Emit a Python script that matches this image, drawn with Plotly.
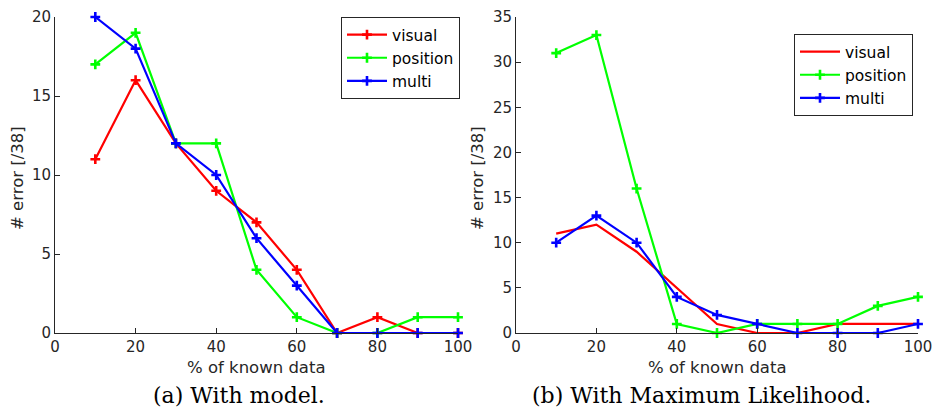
import plotly.graph_objects as go

x_vals = [10, 20, 30, 40, 50, 60, 70, 80, 90, 100]

# (a) With model
a_visual = [11, 16, 12, 9, 7, 4, 0, 1, 0, 0]
a_position = [17, 19, 12, 12, 4, 1, 0, 0, 1, 1]
a_multi = [20, 18, 12, 10, 6, 3, 0, 0, 0, 0]

# (b) With Maximum Likelihood
b_visual = [11, 12, 9, 5, 1, 0, 0, 1, 1, 1]
b_position = [31, 33, 16, 1, 0, 1, 1, 1, 3, 4]
b_multi = [10, 13, 10, 4, 2, 1, 0, 0, 0, 1]

series_names = ["visual", "position", "multi"]
colors = ["#ff0000", "#00ff00", "#0000ff"]
x_ticks = [0, 20, 40, 60, 80, 100]
a_y_ticks = [0, 5, 10, 15, 20]
b_y_ticks = [0, 5, 10, 15, 20, 25, 30, 35]
captions = ["(a) With model.", "(b) With Maximum Likelihood."]
x_title = "% of known data"
y_title = "# error [/38]"

W, H = 933, 407
fig = go.Figure()

def add(y, name, color, xa, ya, legend, markers=True):
    fig.add_trace(go.Scatter(
        x=x_vals, y=y, name=name, xaxis=xa, yaxis=ya, legend=legend,
        mode="lines+markers" if markers else "lines",
        line=dict(color=color, width=2.2),
        marker=dict(symbol="cross-thin", size=7, line=dict(width=2.6, color=color), color=color),
        cliponaxis=False,
    ))

for ys, n, c in zip([a_visual, a_position, a_multi], series_names, colors):
    add(ys, n, c, "x", "y", "legend")
for ys, n, c, m in zip([b_visual, b_position, b_multi], series_names, colors, [False, True, True]):
    add(ys, n, c, "x2", "y2", "legend2", m)

def px(v):
    return v / W
def py(v):
    return 1 - v / H

tickfont = dict(family="DejaVu Sans", size=15, color="#262626")
ax_common = dict(showgrid=False, zeroline=False, showline=True, linecolor="#262626",
                 linewidth=1, ticks="inside", ticklen=5, tickcolor="#262626",
                 tickwidth=1, tickfont=tickfont, mirror=False, fixedrange=True,
                 automargin=False)

legend_common = dict(bgcolor="white", bordercolor="#262626", borderwidth=1,
                     font=dict(family="DejaVu Sans", size=15.5, color="#000000"),
                     tracegroupgap=0, itemwidth=40)

fig.update_layout(
    width=W, height=H, margin=dict(l=0, r=0, t=0, b=0, pad=0, autoexpand=False),
    paper_bgcolor="white", plot_bgcolor="white",
    xaxis=dict(domain=[px(55), px(458)], range=[0, 100], tickvals=x_ticks, anchor="y", **ax_common),
    yaxis=dict(domain=[py(333), py(17)], range=[0, 20], tickvals=a_y_ticks, anchor="x", **ax_common),
    xaxis2=dict(domain=[px(516), px(918)], range=[0, 100], tickvals=x_ticks, anchor="y2", **ax_common),
    yaxis2=dict(domain=[py(333), py(17)], range=[0, 35], tickvals=b_y_ticks, anchor="x2", **ax_common),
    legend=dict(x=px(460), y=py(17), xanchor="right", yanchor="top", **legend_common),
    legend2=dict(x=px(913), y=py(34), xanchor="right", yanchor="top", **legend_common),
    showlegend=True,
)

annos = []
for cx in [(55 + 458) / 2, (516 + 918) / 2]:
    annos.append(dict(text=x_title, x=px(cx), y=py(367), xref="paper", yref="paper",
                      showarrow=False, xanchor="center", yanchor="middle",
                      font=dict(family="DejaVu Sans", size=16.5, color="#262626")))
for cx in [18, 478]:
    annos.append(dict(text=y_title, x=px(cx), y=py(178), xref="paper", yref="paper",
                      showarrow=False, xanchor="center", yanchor="middle", textangle=-90,
                      font=dict(family="DejaVu Sans", size=16.5, color="#262626")))
for cap, cx in zip(captions, [239, 701]):
    annos.append(dict(text=cap, x=px(cx), y=py(395), xref="paper", yref="paper",
                      showarrow=False, xanchor="center", yanchor="middle",
                      font=dict(family="DejaVu Serif", size=22, color="#000000")))
fig.update_layout(annotations=annos)

fig.write_html(
    "out.html",
    config={"displayModeBar": False},
    post_script="document.body.style.margin='0';document.body.style.overflow='hidden';",
)
